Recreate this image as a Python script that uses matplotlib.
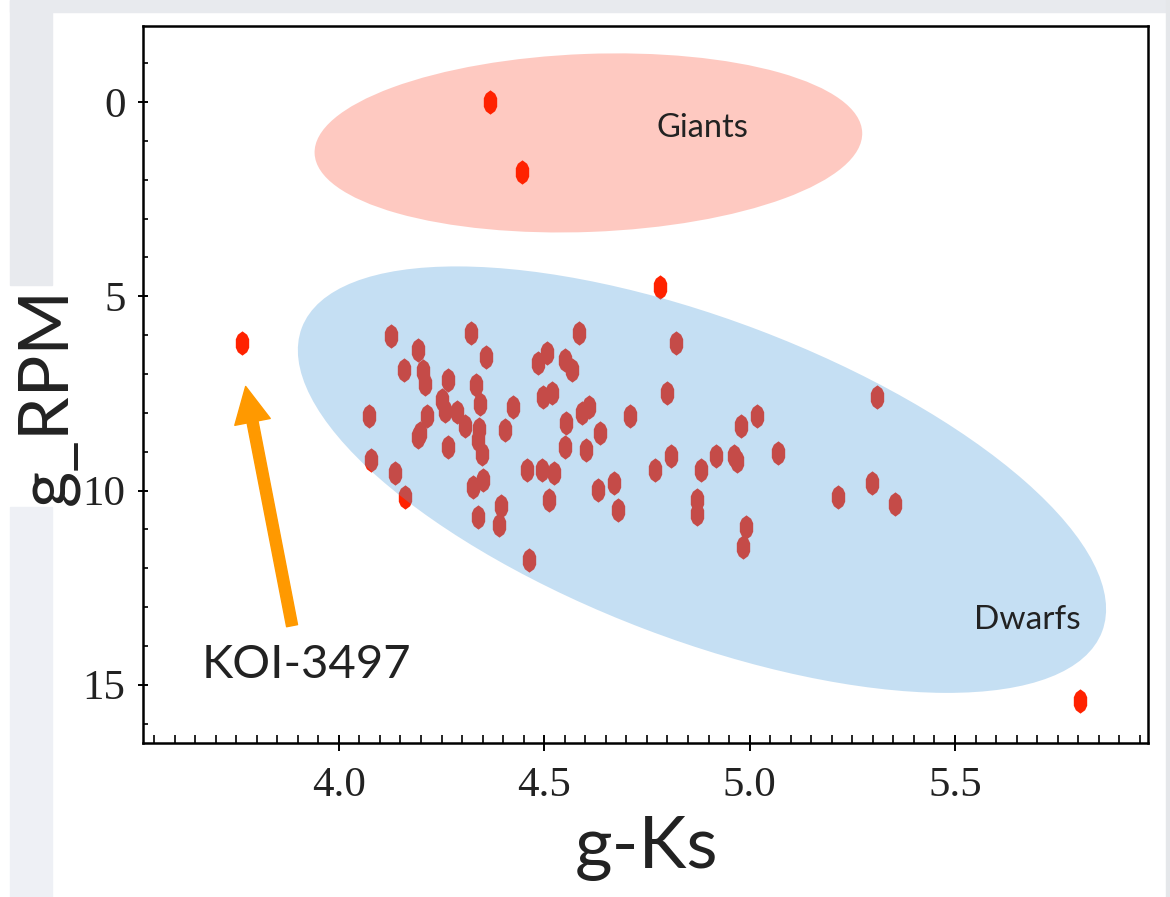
import matplotlib
matplotlib.use('Agg')
import matplotlib.pyplot as plt
from matplotlib import font_manager
from matplotlib.patches import Ellipse, Rectangle
from matplotlib.transforms import ScaledTranslation
from matplotlib.ticker import MultipleLocator, FormatStrFormatter

# g-Ks colour and reduced proper motion (g_RPM) of the stars
g_ks = [4.128, 4.321, 4.193, 4.357, 4.584, 4.820, 4.159, 4.205, 4.209, 4.266,
        4.335, 4.506, 4.485, 4.550, 4.567, 4.798, 4.250, 4.258, 4.343, 4.287,
        4.308, 4.425, 4.497, 4.519, 4.073, 4.214, 4.197, 4.192, 4.342, 4.339,
        4.348, 4.404, 4.553, 4.593, 4.609, 4.636, 4.709, 4.550, 4.601, 4.266,
        4.077, 4.137, 4.162, 4.458, 4.494, 4.523, 4.808, 4.769, 4.881, 4.351,
        4.326, 4.511, 4.631, 4.670, 4.679, 4.394, 4.390, 4.339, 4.872, 4.871,
        4.463, 4.919, 4.963, 4.970, 4.980, 5.018, 5.070, 4.992, 4.984, 5.216,
        5.297, 5.353, 5.310,
        3.764, 4.368, 4.446, 4.782, 5.804]
g_rpm = [6.03, 5.94, 6.37, 6.55, 5.94, 6.20, 6.89, 6.91, 7.25, 7.15,
         7.29, 6.46, 6.72, 6.63, 6.89, 7.49, 7.66, 7.94, 7.77, 7.98,
         8.35, 7.84, 7.58, 7.49, 8.09, 8.07, 8.52, 8.63, 8.41, 8.71,
         9.07, 8.44, 8.27, 8.01, 7.84, 8.52, 8.09, 8.87, 8.95, 8.87,
         9.21, 9.55, 10.17, 9.47, 9.47, 9.55, 9.12, 9.47, 9.47, 9.74,
         9.91, 10.24, 9.98, 9.81, 10.50, 10.41, 10.88, 10.67, 10.24, 10.60,
         11.79, 9.12, 9.12, 9.23, 8.35, 8.09, 9.04, 10.93, 11.46, 10.17,
         9.81, 10.34, 7.58,
         6.21, 0.00, 1.80, 4.76, 15.41]

# KOI-3497 and the arrow pointing at it
koi_name = 'KOI-3497'
koi_point = (3.773, 7.32)
koi_label = (3.922, 14.82)
arrow_tail = (3.886, 13.48)

# region outlines: centre (data), width / height (inches), angle
giants_center = (4.6075, 1.05)
giants_size = (5.48, 1.78, 2.2)
dwarfs_center = (4.884, 9.72)
dwarfs_size = (8.56, 3.20, -20.8)
giants_label = (4.884, 0.90)
dwarfs_label = (5.675, 13.56)

label_font = 'Lato'
names = {f.name for f in font_manager.fontManager.ttflist}
tick_font = 'Liberation Sans Narrow' if 'Liberation Sans Narrow' in names else 'Liberation Serif'

fig = plt.figure(figsize=(11.7, 8.97), dpi=100)

# slide background pieces
grey = '#e8eaee'
fig.patches.append(Rectangle((0.0085, 0.9866), 0.9915, 0.0134, transform=fig.transFigure, color=grey, zorder=0))
fig.patches.append(Rectangle((0.0085, 0.6823), 0.0359, 0.3177, transform=fig.transFigure, color=grey, zorder=0))
fig.patches.append(Rectangle((0.0085, 0.0), 0.0359, 0.4348, transform=fig.transFigure, color='#eef0f5', zorder=0))
fig.patches.append(Rectangle((0.9966, 0.0), 0.0034, 1.0, transform=fig.transFigure, color='#e5e7ea', zorder=0))

ax = fig.add_axes([0.1222, 0.1717, 0.8590, 0.7993])

# giants region (under the points)
trans = fig.dpi_scale_trans + ScaledTranslation(giants_center[0], giants_center[1], ax.transData)
ax.add_patch(Ellipse((0, 0), giants_size[0], giants_size[1], angle=giants_size[2],
                     transform=trans, facecolor='#fec9c1', edgecolor='none', zorder=1))

# stars
star = [(0, 1), (0.38, 0.72), (0.55, 0.35), (0.55, -0.35), (0.38, -0.72),
        (0, -1), (-0.38, -0.72), (-0.55, -0.35), (-0.55, 0.35), (-0.38, 0.72)]
ax.plot(g_ks, g_rpm, linestyle='none', marker=star, markersize=17.5,
        markerfacecolor='#ff2200', markeredgewidth=0, zorder=3)

# dwarfs region, translucent over the points
trans = fig.dpi_scale_trans + ScaledTranslation(dwarfs_center[0], dwarfs_center[1], ax.transData)
ax.add_patch(Ellipse((0, 0), dwarfs_size[0], dwarfs_size[1], angle=dwarfs_size[2],
                     transform=trans, facecolor='#529fdb', alpha=0.335, edgecolor='none', zorder=4))

ax.text(giants_label[0], giants_label[1], 'Giants', family=label_font, fontsize=23.5,
        color='#222222', ha='center', va='baseline', zorder=5)
ax.text(dwarfs_label[0], dwarfs_label[1], 'Dwarfs', family=label_font, fontsize=24,
        color='#222222', ha='center', va='baseline', zorder=5)

ax.annotate('', xy=koi_point, xytext=arrow_tail,
            arrowprops=dict(arrowstyle='simple,head_length=1.3,head_width=1.3,tail_width=0.4',
                            color='#ff9900', mutation_scale=20, shrinkA=0, shrinkB=0),
            zorder=5)
ax.text(koi_label[0], koi_label[1], koi_name, family=label_font, fontsize=34,
        color='#222222', ha='center', va='baseline', zorder=5)

ax.set_xlim(3.523, 5.970)
ax.set_ylim(16.5, -1.96)

ax.xaxis.set_major_locator(MultipleLocator(0.5))
ax.xaxis.set_minor_locator(MultipleLocator(0.05))
ax.xaxis.set_major_formatter(FormatStrFormatter('%.1f'))
ax.yaxis.set_major_locator(MultipleLocator(5))
ax.yaxis.set_minor_locator(MultipleLocator(1))

for s in ax.spines.values():
    s.set_linewidth(1.8)
    s.set_color('black')

ax.tick_params(axis='x', which='major', direction='inout', length=11.5, width=1.4, pad=11)
ax.tick_params(axis='x', which='minor', direction='in', length=5.5, width=1.2)
ax.tick_params(axis='y', which='major', direction='inout', length=7, width=1.4, pad=9)
ax.tick_params(axis='y', which='minor', direction='in', length=3.5, width=1.2)
for lab in ax.get_xticklabels() + ax.get_yticklabels():
    lab.set_family(tick_font)
    lab.set_fontsize(31)
    lab.set_color('#222222')

ax.set_xlabel('g-Ks', family=label_font, fontsize=52, color='#222222')
ax.xaxis.label.set_va('baseline')
ax.xaxis.set_label_coords(0.501, -0.1743)
ax.set_ylabel('g_RPM', family=label_font, fontsize=50, color='#222222')
ax.yaxis.label.set_va('baseline')
ax.yaxis.set_label_coords(-0.0766, 0.484)

fig.savefig('out.png', dpi=100)
